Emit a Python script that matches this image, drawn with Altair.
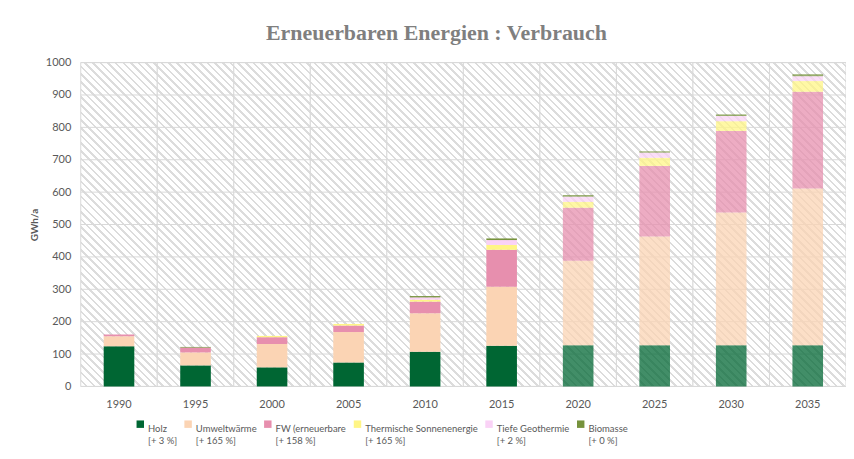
import math
import altair as alt
import pandas as pd

years = [1990, 1995, 2000, 2005, 2010, 2015, 2020, 2025, 2030, 2035]
series = ["Holz", "Umweltwärme", "FW (erneuerbare", "Thermische Sonnenenergie",
          "Tiefe Geothermie", "Biomasse"]
changes = ["[+ 3 %]", "[+ 165 %]", "[+ 158 %]", "[+ 165 %]", "[+ 2 %]", "[+ 0 %]"]
colors = ["#006633", "#FBD4B4", "#E78FAE", "#FFF585", "#FAD2F6", "#76923C"]

holz = [124, 65, 59, 74, 107, 126, 127, 127, 127, 127]
umwelt = [31, 40, 72, 94, 119, 182, 261, 336, 410, 484]
fw = [5, 15, 21, 20, 36, 114, 164, 218, 252, 299]
therm = [0, 0, 4, 5, 6, 15, 18, 25, 30, 33]
geo = [0, 0, 0, 0, 7, 15, 16, 16, 16, 15]
bio = [0, 2, 0, 0, 4, 5, 5, 4, 5, 6]
values = [holz, umwelt, fw, therm, geo, bio]

y_ticks = [0, 100, 200, 300, 400, 500, 600, 700, 800, 900, 1000]

rows = []
for si, (name, vals) in enumerate(zip(series, values)):
    for yr, v in zip(years, vals):
        rows.append({"Jahr": yr, "Serie": name, "Wert": v, "ord": si})
df = pd.DataFrame(rows)

W, H = 768, 325
band = W / len(years)

# diagonal hatch as a gradient inside each category band
k = (band + H) / (band * band + H * H)
span = (band + H) / math.sqrt(2)
period = (band / math.sqrt(2)) / 10
stops = []
i = 0
frac = 0.34
while i * period / span < 1:
    t0 = i * period / span
    t1 = min((i + 1 - frac) * period / span, 1)
    t2 = min((i + 1) * period / span, 1)
    stops += [alt.GradientStop(offset=t0, color="#ffffff"),
              alt.GradientStop(offset=t1, color="#ffffff"),
              alt.GradientStop(offset=t1, color="#dcdcdc"),
              alt.GradientStop(offset=t2, color="#dcdcdc")]
    i += 1
hatch = alt.LinearGradient(gradient="linear", stops=stops,
                           x1=0, y1=1, x2=k * band, y2=1 - k * H)

y_scale = alt.Scale(domain=[0, 1000], nice=False)
y_axis = alt.Axis(values=y_ticks, format="d", labelOverlap=False,
                  grid=False, domain=False, ticks=False,
                  title="GWh/a", titleFont="Lato", titleFontSize=10,
                  titleFontWeight="bold", titleColor="#595959",
                  titlePadding=6, labelPadding=10, labelFont="Lato",
                  labelFontSize=11, labelColor="#595959")

bg = alt.Chart(pd.DataFrame({"Jahr": years})).mark_rect(
    fill=hatch, stroke="#d9d9d9", strokeWidth=1
).encode(
    x=alt.X("Jahr:O", scale=alt.Scale(paddingInner=0, paddingOuter=0), axis=None),
    y=alt.Y(datum=0, scale=y_scale, axis=y_axis, title="GWh/a"),
    y2=alt.datum(1000),
)

grid = alt.Chart(pd.DataFrame({"v": y_ticks})).mark_rule(
    color="#d9d9d9", strokeWidth=1
).encode(y=alt.Y("v:Q", scale=y_scale, axis=y_axis, title="GWh/a"))

label_expr = "[datum.label, " + " : ".join(
    f"datum.label == '{s}' ? '{c}'" for s, c in zip(series, changes)
) + " : '']"

bars = alt.Chart(df).mark_bar().encode(
    x=alt.X("Jahr:O", scale=alt.Scale(paddingInner=0.6, paddingOuter=0.3),
            axis=alt.Axis(title=None, labelAngle=0, domain=False, ticks=False,
                          labelPadding=12, labelFont="Lato", labelFontSize=11,
                          labelColor="#595959")),
    y=alt.Y("Wert:Q", stack="zero", scale=y_scale, axis=y_axis, title="GWh/a"),
    color=alt.Color("Serie:N", sort=series,
                    scale=alt.Scale(domain=series, range=colors),
                    legend=alt.Legend(
                        title=None, orient="none", direction="horizontal",
                        legendX=55, legendY=358, columns=6, columnPadding=6,
                        symbolType="square", symbolSize=56, symbolStrokeWidth=0,
                        labelFont="Lato", labelFontSize=9.5,
                        labelColor="#595959", labelLimit=200,
                        labelExpr=label_expr, labelBaseline="top",
                        labelOffset=3, padding=0)),
    order=alt.Order("ord:Q", sort="ascending"),
    opacity=alt.condition("datum.Jahr >= 2020", alt.value(0.74), alt.value(1)),
)

chart = alt.layer(bg, grid, bars).resolve_scale(x="independent").properties(
    width=W, height=H, autosize="none",
    padding={"left": 73, "top": 54, "right": 0, "bottom": 64},
    title=alt.TitleParams(
        "Erneuerbaren Energien : Verbrauch", font="Liberation Serif",
        fontSize=22, fontWeight="bold", color="#7f7f7f", anchor="middle",
        dx=-27, offset=12),
).configure_view(stroke=None)

chart.save("out.html", embed_options={"renderer": "svg", "actions": False})
